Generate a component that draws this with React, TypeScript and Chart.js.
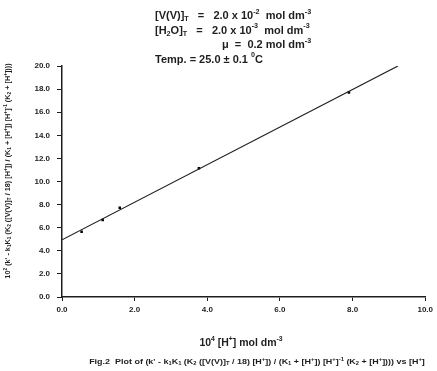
import React, { useEffect, useRef } from "react";
import { Chart, registerables } from "chart.js";

Chart.register(...registerables);

// ---- data ----
const hConc = [0.54, 1.12, 1.59, 3.77, 7.9]; // 10^4 [H+] mol dm^-3
const kValues = [5.65, 6.67, 7.73, 11.14, 17.7];
const fitX = [0, 9.25];
const fitY = [4.95, 20.0];
const xTicks = [0, 2, 4, 6, 8, 10];
const yTicks = [0, 2, 4, 6, 8, 10, 12, 14, 16, 18, 20];

type Seg = [string, number]; // 0 normal, 1 sup, -1 sub

const headerLines: { x: number; y: number; segs: Seg[] }[] = [
  { x: 155, y: 16, segs: [["[V(V)]", 0], ["T", -1], ["   =   2.0 x 10", 0], ["-2", 1], ["  mol dm", 0], ["-3", 1]] },
  { x: 155, y: 30.5, segs: [["[H", 0], ["2", -1], ["O]", 0], ["T", -1], ["   =   2.0 x 10", 0], ["-3", 1], ["  mol dm", 0], ["-3", 1]] },
  { x: 222, y: 45, segs: [["\u03bc  =  0.2 mol dm", 0], ["-3", 1]] },
  { x: 155, y: 59.5, segs: [["Temp. = 25.0 \u00b1 0.1 ", 0], ["0", 1], ["C", 0]] },
];

const xTitle: Seg[] = [["10", 0], ["4", 1], [" [H", 0], ["+", 1], ["] mol dm", 0], ["-3", 1]];

const yTitle: Seg[] = [
  ["10", 0], ["2", 1], [" (k' - k", 0], ["1", -1], ["K", 0], ["1", -1], [" (K", 0], ["2", -1],
  [" ([V(V)]", 0], ["T", -1], [" / 18) [H", 0], ["+", 1], ["]) / (K", 0], ["1", -1], [" + [H", 0], ["+", 1],
  ["]) [H", 0], ["+", 1], ["]", 0], ["-1", 1], [" (K", 0], ["2", -1], [" + [H", 0], ["+", 1], ["])))", 0],
];

const caption: Seg[] = [
  ["Fig.2  Plot of (k' - k", 0], ["1", -1], ["K", 0], ["1", -1], [" (K", 0], ["2", -1], [" ([V(V)]", 0], ["T", -1],
  [" / 18) [H", 0], ["+", 1], ["]) / (K", 0], ["1", -1], [" + [H", 0], ["+", 1], ["]) [H", 0], ["+", 1], ["]", 0],
  ["-1", 1], [" (K", 0], ["2", -1], [" + [H", 0], ["+", 1], ["]))) vs [H", 0], ["+", 1], ["]", 0],
];

const FONT = "'Liberation Sans', Arial, sans-serif";
const INK = "#1e1e1e";

function richWidth(ctx: CanvasRenderingContext2D, segs: Seg[], size: number) {
  let w = 0;
  for (const [t, k] of segs) {
    ctx.font = `bold ${k === 0 ? size : size * 0.65}px ${FONT}`;
    w += ctx.measureText(t).width;
  }
  return w;
}

function drawRich(
  ctx: CanvasRenderingContext2D,
  x: number,
  y: number,
  segs: Seg[],
  size: number,
  align: "left" | "center"
) {
  let cx = align === "center" ? x - richWidth(ctx, segs, size) / 2 : x;
  ctx.textAlign = "left";
  ctx.textBaseline = "middle";
  for (const [t, k] of segs) {
    const s = k === 0 ? size : size * 0.65;
    ctx.font = `bold ${s}px ${FONT}`;
    const dy = k === 1 ? -size * 0.38 : k === -1 ? size * 0.3 : 0;
    ctx.fillText(t, cx, y + dy);
    cx += ctx.measureText(t).width;
  }
}

const textPlugin = {
  id: "figText",
  afterDraw(chart: any) {
    const ctx: CanvasRenderingContext2D = chart.ctx;
    ctx.save();
    ctx.fillStyle = INK;
    for (const l of headerLines) drawRich(ctx, l.x, l.y, l.segs, 11, "left");
    drawRich(ctx, 241, 343, xTitle, 10.5, "center");
    ctx.save();
    ctx.translate(257, 362);
    ctx.scale(1.28, 1);
    drawRich(ctx, 0, 0, caption, 7, "center");
    ctx.restore();
    ctx.translate(8, 171);
    ctx.rotate(-Math.PI / 2);
    drawRich(ctx, 0, 0, yTitle, 7.3, "center");
    ctx.restore();
  },
};

export default function App() {
  const ref = useRef<HTMLCanvasElement | null>(null);
  useEffect(() => {
    if (!ref.current) return;
    const chart = new Chart(ref.current, {
      type: "scatter",
      data: {
        datasets: [
          {
            data: fitX.map((x, i) => ({ x, y: fitY[i] })),
            showLine: true,
            borderColor: INK,
            borderWidth: 1.2,
            pointRadius: 0,
          },
          {
            data: hConc.map((x, i) => ({ x, y: kValues[i] })),
            pointStyle: "rect",
            pointRadius: 1.8,
            backgroundColor: "#000",
            borderColor: "#000",
            borderWidth: 0,
          },
        ],
      },
      options: {
        animation: false,
        responsive: false,
        devicePixelRatio: 1,
        layout: { padding: { left: 0, top: 66, right: 8, bottom: 0 } },
        plugins: { legend: { display: false }, tooltip: { enabled: false } },
        scales: {
          x: {
            type: "linear",
            min: 0,
            max: 10,
            afterFit: (s: any) => {
              s.height = 74;
            },
            afterBuildTicks: (s: any) => {
              s.ticks = xTicks.map((v) => ({ value: v }));
            },
            border: { display: true, color: INK, width: 1.5 },
            grid: { drawOnChartArea: false, drawTicks: true, tickLength: 4, color: INK, lineWidth: 1 },
            ticks: {
              color: INK,
              padding: 4,
              maxRotation: 0,
              font: { family: FONT, size: 8, weight: "bold" },
              callback: (v: any) => Number(v).toFixed(1),
            },
          },
          y: {
            type: "linear",
            min: 0,
            max: 20,
            afterFit: (s: any) => {
              s.width = 62;
            },
            afterBuildTicks: (s: any) => {
              s.ticks = yTicks.map((v) => ({ value: v }));
            },
            border: { display: true, color: INK, width: 1.5 },
            grid: { drawOnChartArea: false, drawTicks: true, tickLength: 5, color: INK, lineWidth: 1 },
            ticks: {
              color: INK,
              padding: 7,
              font: { family: FONT, size: 8, weight: "bold" },
              callback: (v: any) => Number(v).toFixed(1),
            },
          },
        },
      },
      plugins: [textPlugin],
    } as any);
    return () => chart.destroy();
  }, []);
  return (
    <div style={{ position: "fixed", left: 0, top: 0, width: 437, height: 371, background: "#fff" }}>
      <canvas ref={ref} width={437} height={371} style={{ display: "block" }} />
    </div>
  );
}
